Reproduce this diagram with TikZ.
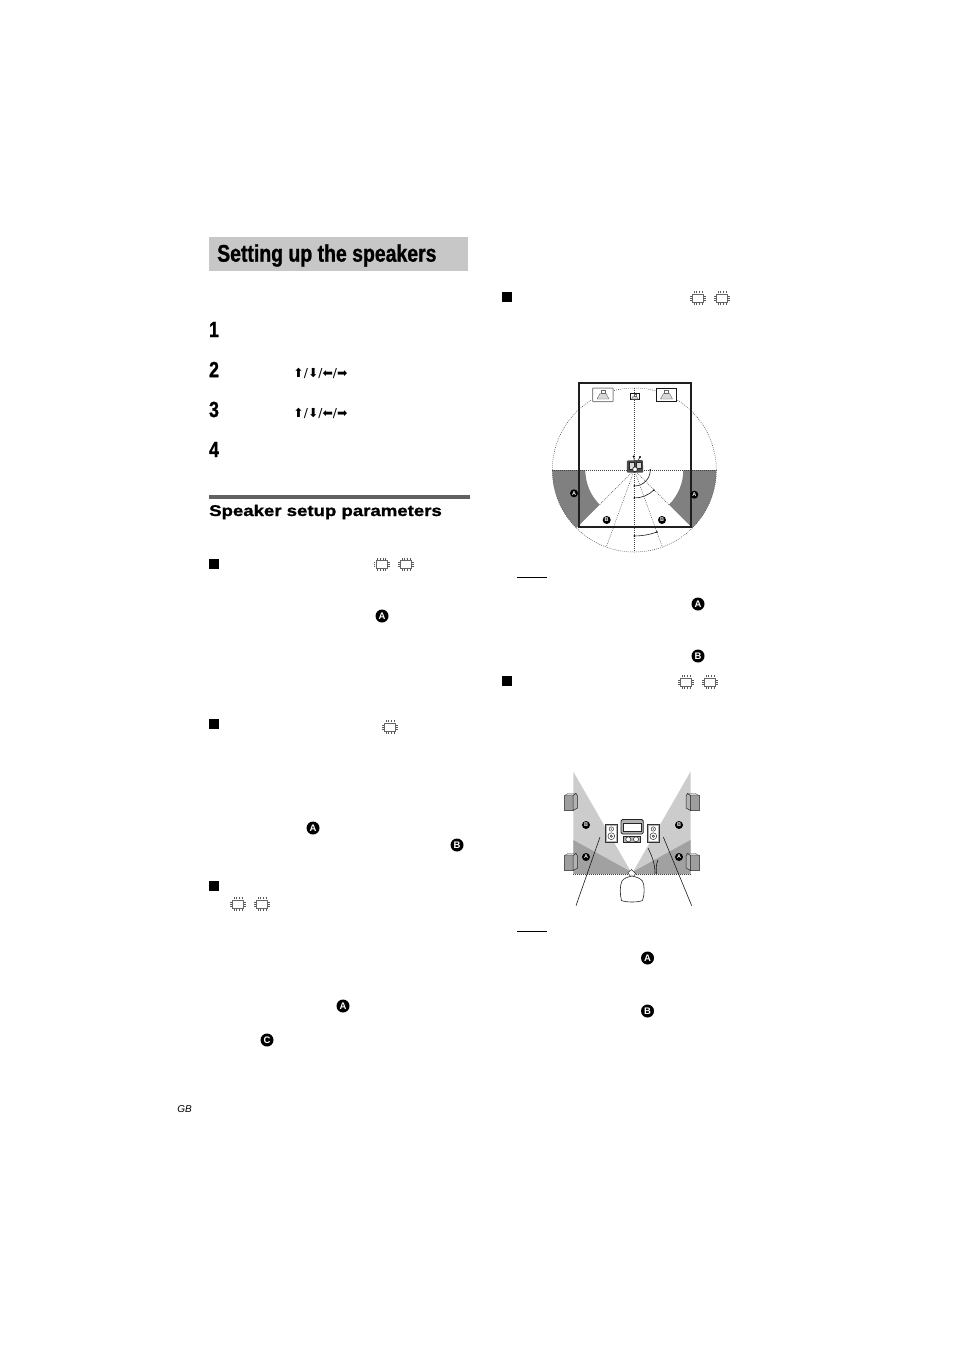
\documentclass[tikz,border=0pt]{standalone}
\usepackage{fontspec}
\usetikzlibrary{calc}
\setmainfont{Liberation Sans}
\newfontfamily\titlefont[FakeStretch=0.81,FakeBold=1.0]{Liberation Sans Bold}
\newfontfamily\headfont[FakeStretch=1.2,FakeBold=1.2]{Liberation Sans Bold}
\newfontfamily\arrowfont{DejaVu Sans}
\definecolor{sectgrey}{gray}{0.5}
\definecolor{lightcone}{gray}{0.80}
\definecolor{darkcone}{gray}{0.63}
\tikzset{
  badge/.style={circle,fill=black,text=white,inner sep=0pt,minimum size=13pt,font=\fontsize{9.5}{9.5}\selectfont\bfseries},
  smallbadge/.style={circle,fill=black,text=white,inner sep=0pt,minimum size=8pt,font=\fontsize{5.5}{5.5}\selectfont\bfseries},
  dotline/.style={line width=0.5pt,dash pattern=on 0.8pt off 1.2pt,black!75},
  bullet/.style={fill=black,inner sep=0pt,minimum size=9.5pt},
  stepnum/.style={anchor=center,font=\titlefont\fontsize{22}{22}\selectfont},
  arrowtext/.style={anchor=center,font=\arrowfont\fontsize{12.4}{12.4}\selectfont},
  spkicon/.style={line width=0.4pt,draw=black!60,fill=black!15},
}
\newcommand{\sparkle}[2]{%
  \begin{scope}[shift={(#1,#2)}]
    \draw[black!60,line width=0.45pt] (-5.5,-4) rectangle (5.5,4);
    \foreach \a in {-4,-1.5,1.5,4}{
      \draw[black!65,line width=0.6pt] (\a,-4.8) -- (\a,-6.8);
      \draw[black!65,line width=0.6pt] (\a,4.8) -- (\a,6.8);}
    \foreach \b in {-2,0,2}{
      \draw[black!65,line width=0.6pt] (-6.2,\b) -- (-8,\b);
      \draw[black!65,line width=0.6pt] (6.2,\b) -- (8,\b);}
  \end{scope}}
\newcommand{\frontspk}[2]{%
  \begin{scope}[shift={(#1,#2)}]
    \draw[spkicon] (-6,4.5) -- (-3,-1) -- (3,-1) -- (6,4.5) -- cycle;
    \draw[spkicon,fill=white] (-2,-4) rectangle (2,-1);
  \end{scope}}
\newcommand{\sidespk}[3]{%
  \begin{scope}[shift={(#1,#2)},xscale=#3]
    \draw[black!65,line width=0.4pt,fill=black!38] (-6.5,-6.5) -- (2,-6.5) -- (2,8.5) -- (-6.5,8.5) -- cycle;
    \draw[black!65,line width=0.4pt,fill=black!18] (-6.5,-6.5) -- (-3,-8.5) -- (5,-8.5) -- (2,-6.5) -- cycle;
    \draw[black!85,line width=0.5pt,fill=black!30] (2,-6.5) -- (5,-8.5) -- (6.5,-6) -- (6.5,6) -- (2,8.5) -- cycle;
  \end{scope}}
\newcommand{\boxspk}[2]{%
  \begin{scope}[shift={(#1,#2)}]
    \draw[black!80,line width=0.5pt,fill=black!30] (-6,-9) rectangle (6.3,9);
    \fill[white] (-4.5,-7.5) rectangle (5,8);
    \draw[black!80,line width=0.5pt] (0.3,-4) circle (2.2) (0.3,3.2) circle (3.4) (0.3,3.2) circle (1.2);
    \fill[black!80] (0.3,-4) circle (0.7);
  \end{scope}}
\begin{document}
\begin{tikzpicture}[x=1pt,y=-1pt]
\useasboundingbox (0,0) rectangle (954,1351);
\fill[white] (0,0) rectangle (954,1351);

% title
\fill[black!22] (209,237) rectangle (468,271);
\node[anchor=west,inner sep=0pt,font=\titlefont\fontsize{24}{24}\selectfont] (title) at (217,255.5) {Setting up the speakers};

\node[stepnum] (n1) at (214,329.5) {1};
\node[stepnum] (n2) at (214,369.5) {2};
\node[stepnum] (n3) at (214,409.5) {3};
\node[stepnum] (n4) at (214,449.5) {4};
\node[arrowtext] (a2) at (320.5,373.5) {⬆/⬇/⬅/➡};
\node[arrowtext] (a3) at (320.5,413.5) {⬆/⬇/⬅/➡};

% section heading
\fill[black!62] (209,495) rectangle (470,498.5);
\node[anchor=west,inner sep=0pt,font=\headfont\fontsize{15.5}{16}\selectfont] (head) at (209,512) {Speaker setup parameters};

% bullets
\foreach \nm/\xx/\yy in {b1/214/564,b2/214/724,b3/214/886,b4/507/297,b5/507/681}
  \node[bullet] (\nm) at (\xx,\yy) {};

% sparkles
\sparkle{381.5}{564.5}\sparkle{406}{564.5}
\sparkle{390}{727}
\sparkle{238}{904}\sparkle{262}{904}
\sparkle{698}{298}\sparkle{722}{298}
\sparkle{686}{682}\sparkle{710}{682}

% badges
\foreach \nm/\xx/\yy/\lab in {c1/382/616/A,c2/313/828/A,c3/457/845/B,c4/343/1006/A,c5/267/1040/C,c6/698/604/A,c7/698/656/B,c8/647.5/958/A,c9/647.5/1011/B}
  \node[badge] (\nm) at (\xx,\yy) {\lab};

\node[anchor=center,inner sep=0pt,font=\itshape\fontsize{10}{10}\selectfont] (gb) at (184.5,1109) {GB};

% note rules
\draw[line width=0.9pt] (517,577) -- (547,577);
\draw[line width=0.9pt] (517,931) -- (547,931);

% ---------- circular diagram
\coordinate (C) at (634.3,470);
\fill[sectgrey] (C) ++(180:82) arc[start angle=180,end angle=135,radius=82]
   -- ($(C)+(135:49)$) arc[start angle=135,end angle=180,radius=49] -- cycle;
\fill[sectgrey] (C) ++(0:82) arc[start angle=0,end angle=45,radius=82]
   -- ($(C)+(45:49)$) arc[start angle=45,end angle=0,radius=49] -- cycle;
\draw[dotline] (C) circle (82);
\draw[dotline] ($(C)+(-82,0)$) -- ($(C)+(82,0)$);
\draw[dotline] ($(C)+(0,-82)$) -- ($(C)+(0,82)$);
\draw[dotline] (C) -- ($(C)+(135:49)$);
\draw[dotline] (C) -- ($(C)+(45:49)$);
\draw[dotline] (C) -- ($(C)+(70:82)$);
\draw[dotline] (C) -- ($(C)+(110:82)$);
% arcs
\draw[line width=0.6pt,black!90] ($(C)+(0:16)$) arc[start angle=0,end angle=90,radius=16];
\draw[line width=0.6pt,black!90] ($(C)+(46:28)$) arc[start angle=46,end angle=90,radius=28];
\draw[line width=0.6pt,black!90] ($(C)+(70:66)$) arc[start angle=70,end angle=90,radius=66];
\foreach \ang/\rad in {0/16,90/16,46/28,90/28,70/66,90/66}
  \fill[black] ($(C)+(\ang:\rad)$) circle (0.9);
% room
\draw[line width=1.9pt,black!88] (579,383.3) rectangle (691,527.3);
% speakers
\draw[line width=1pt,black!45,fill=white,rounded corners=0.5pt] (592.7,388) rectangle (613,401.7);
\frontspk{603}{394.5}
\draw[line width=0.9pt,black!90,fill=white] (630.3,393.5) rectangle (639.5,399.3);
\begin{scope}[shift={(634.8,396.6)},scale=0.55]\draw[spkicon] (-6,4.5) -- (-3,-1) -- (3,-1) -- (6,4.5) -- cycle;\draw[spkicon,fill=white] (-2,-4) rectangle (2,-1);\end{scope}
\draw[line width=0.9pt,black!90,fill=white] (656.5,388) rectangle (676.5,401.7);
\frontspk{666.5}{394.5}
% TV and listener
\begin{scope}[shift={(C)}]
  \draw[line width=0.6pt,black!85] (0,-8) -- (-0.5,-13) (3,-8) -- (5.7,-13);
  \fill[black] (-0.5,-13.5) circle (1.1) (5.7,-13) circle (1.1);
  \fill[black!70,rounded corners=1pt] (-7.5,-9.5) -- (8.5,-10) -- (9,2.7) -- (-7.5,2.7) -- cycle;
  \draw[line width=0.5pt,black!85,fill=black!15] (-5.5,-7.5) rectangle (-0.5,-1);
  \draw[line width=0.5pt,black!85,fill=black!15] (1.5,-8) rectangle (7,-1.5);
  \draw[line width=0.7pt,black!85,fill=white] (0.7,-0.7) circle (2.4);
\end{scope}
% badges of diagram
\node[smallbadge] (da1) at (574,493.3) {A};
\node[smallbadge] (da2) at (694.3,494.7) {A};
\node[smallbadge] (db1) at (606.7,520) {B};
\node[smallbadge] (db2) at (662,520) {B};

% ---------- second diagram
\fill[lightcone] (573.3,771.7) -- (630.5,871) -- (630.5,874) -- (573.3,874) -- cycle;
\fill[lightcone] (690.5,771.7) -- (633.5,871) -- (633.5,874) -- (690.5,874) -- cycle;
\fill[darkcone] (573.3,840) -- (630.5,871.5) -- (630.5,874) -- (573.3,874) -- cycle;
\fill[darkcone] (690.5,840) -- (633.5,871.5) -- (633.5,874) -- (690.5,874) -- cycle;
\draw[dotline] (573.3,874) -- (630.5,874) (633.5,874) -- (690.5,874);
\draw[line width=0.6pt,black!90] (648,848) .. controls (653,858) and (655,865) .. (655,873.5);
\draw[line width=0.6pt,black!90] (658,860) .. controls (656,864) and (656,869) .. (656.5,873.5);
\draw[line width=0.6pt,black!90] (600,837) -- (576,905.7);
\draw[line width=0.6pt,black!90] (663.3,837) -- (691.7,905.7);
\sidespk{571}{802}{1}
\sidespk{571}{862}{1}
\sidespk{692.5}{802}{-1}
\sidespk{692.5}{862}{-1}
\boxspk{611}{833}
\boxspk{653}{833}
% tv
\draw[line width=0.8pt,black!85,fill=black!30,rounded corners=1.5pt] (621,819.5) rectangle (643.3,834);
\draw[line width=0.6pt,black!85,fill=white] (623.5,823.5) rectangle (641,831.5);
\draw[line width=0.8pt,black!85,fill=black!30] (623.3,836) rectangle (640.7,842.7);
\draw[line width=0.5pt,black!85,fill=white] (628.3,839.3) circle (2.5) (636,839.3) circle (2.5);
% listener
\draw[line width=0.5pt,black!80,fill=white] (631.5,869.5) -- (635.5,873.5) -- (634,876) -- (630,876) -- (628,872.5) -- cycle;
\draw[line width=0.6pt,black!85,fill=white]
  (632,876) .. controls (628,877) and (624,878) .. (622,881)
  .. controls (619.5,886) and (620,895) .. (621.5,900.5) .. controls (626,902.5) and (638,902.5) .. (642.5,900.5)
  .. controls (644.5,895) and (645,886) .. (642.5,881) .. controls (640,878) and (636,877) .. cycle;
\node[smallbadge] (eb1) at (586,825) {B};
\node[smallbadge] (eb2) at (679,825) {B};
\node[smallbadge] (ea1) at (586,857) {A};
\node[smallbadge] (ea2) at (679,857) {A};
\end{tikzpicture}
\end{document}
